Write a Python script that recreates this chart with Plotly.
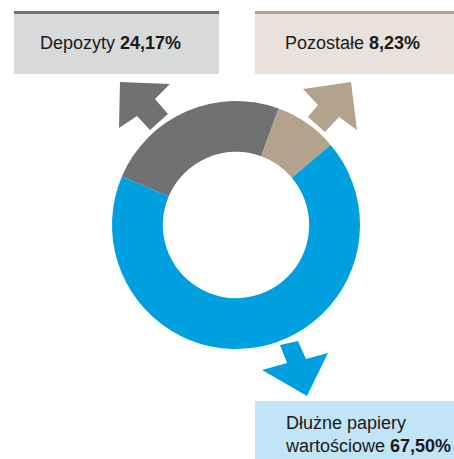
import plotly.graph_objects as go

W, H = 454, 459

kategorie = ['Depozyty', 'Pozostałe', 'Dłużne papiery wartościowe']
udzialy = [24.17, 8.23, 67.50]
kolory = ['#707173', '#b3a38c', '#009fdf']
etykiety = ['Depozyty <b>24,17%</b>', 'Pozostałe <b>8,23%</b>',
            'Dłużne papiery<br>wartościowe <b>67,50%</b>']


def px(x):
    return x / W


def py(y):
    return 1 - y / H


def strzalka(punkty, kolor):
    # wielokąt w pikselach -> ścieżka w układzie paper
    d = 'M ' + ' L '.join(f'{px(x):.4f},{py(y):.4f}' for x, y in punkty) + ' Z'
    return dict(type='path', xref='paper', yref='paper', path=d,
                fillcolor=kolor, line=dict(width=0), layer='below')


def ramka(x0, y0, x1, y1, tlo, pasek=None):
    out = [dict(type='rect', xref='paper', yref='paper',
                x0=px(x0), x1=px(x1), y0=py(y1), y1=py(y0),
                fillcolor=tlo, line=dict(width=0), layer='below')]
    if pasek:
        out.append(dict(type='rect', xref='paper', yref='paper',
                        x0=px(x0), x1=px(x1), y0=py(y0 + 3), y1=py(y0),
                        fillcolor=pasek, line=dict(width=0), layer='below'))
    return out


fig = go.Figure(go.Pie(
    labels=kategorie,
    values=udzialy,
    hole=0.59,
    sort=False,
    direction='clockwise',
    rotation=-67,
    marker=dict(colors=kolory, line=dict(width=0)),
    textinfo='none',
    hoverinfo='label+percent',
    domain=dict(x=[px(112), px(360)], y=[py(349), py(101)]),
))

shapes = []
shapes += ramka(14, 11, 219, 74, '#d8d9db', '#707173')
shapes += ramka(255, 11, 454, 74, '#e8e1dc', '#b3a38c')
shapes += ramka(255, 401, 454, 459, '#c1e4f7')
shapes.append(strzalka([(120, 82), (170, 84), (155, 99), (168, 114),
                        (150, 130), (137, 116), (119, 128)], '#707173'))
shapes.append(strzalka([(303, 89), (351, 82), (357, 130), (339, 117),
                        (325, 132), (308, 117), (318, 105)], '#b3a38c'))
shapes.append(strzalka([(280, 345), (298, 341), (306, 359), (328, 353),
                        (307, 396), (262, 370), (287, 363)], '#009fdf'))

czcionka = dict(family='Liberation Sans, Arial, sans-serif', size=18, color='#1a1a1a')
pozycje = [(38, 43), (283, 43), (283, 434)]
annotations = [
    dict(text=t, x=px(x), y=py(y), xref='paper', yref='paper',
         xanchor='left', yanchor='middle', align='left',
         showarrow=False, font=czcionka)
    for t, (x, y) in zip(etykiety, pozycje)
]

fig.update_layout(
    width=W, height=H,
    margin=dict(l=0, r=0, t=0, b=0),
    paper_bgcolor='white',
    plot_bgcolor='white',
    showlegend=False,
    shapes=shapes,
    annotations=annotations,
)

# bez domyślnego marginesu strony, żeby wykres wypełnił całe okno
fig.write_html("out.html",
               config={'displayModeBar': False},
               post_script="document.body.style.margin='0';"
                           "document.body.style.overflow='hidden';")
